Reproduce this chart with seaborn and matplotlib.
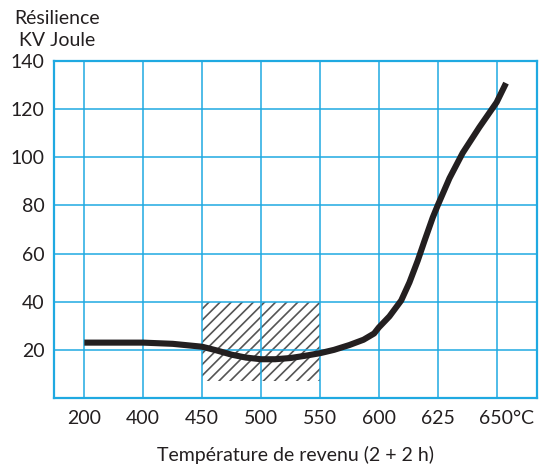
import numpy as np
import pandas as pd
import matplotlib
matplotlib.use("Agg")
import matplotlib.pyplot as plt
import matplotlib.transforms as mtransforms
from matplotlib.patches import Rectangle
import seaborn as sns

# Dados
temp_ticks = [200, 400, 450, 500, 550, 600, 625, 650]
tick_labels = ["200", "400", "450", "500", "550", "600", "625", "650°C"]
y_ticks = [20, 40, 60, 80, 100, 120, 140]

curva_temp = [200, 300, 400, 425, 450, 462, 475, 487, 500, 512, 525, 537, 550,
              562, 575, 587, 596, 600, 604.5, 609.5, 613, 616.5, 619.4, 622.9, 625,
              630, 635.6, 642.7, 650, 654]
curva_kv = [23.0, 23.0, 23.0, 22.5, 21.3, 19.8, 18.0, 16.8, 16.1, 16.1, 16.6, 17.5, 18.6,
            20.0, 22.0, 24.2, 26.8, 29.3, 33.9, 40.5, 48.0, 57.0, 65.3, 75.0, 80.0,
            91.3, 101.8, 112.5, 122.8, 130.8]

# Zone hachurée (température, résilience)
zone_temp = [450, 550]
zone_kv = [7, 40]

azul = "#1FA9E1"
preto = "#231F20"

sns.set_theme(style="white")
plt.rcParams["font.family"] = ["Lato", "DejaVu Sans"]
plt.rcParams["hatch.linewidth"] = 1.2

# Eixo x com espaçamento igual entre os ticks (25 °C par case après 600)
escala_temp = temp_ticks + [675]
escala_pos = list(range(len(temp_ticks) + 1))
pos_ticks = np.arange(len(temp_ticks))
df = pd.DataFrame({"pos": np.interp(curva_temp, escala_temp, escala_pos), "kv": curva_kv})

fig = plt.figure(figsize=(5.39, 4.68), dpi=100)
ax = fig.add_axes([0.1002, 0.1496, 0.8961, 0.7201])

zx = np.interp(zone_temp, escala_temp, escala_pos)
ax.add_patch(Rectangle((zx[0], zone_kv[0]), zx[1] - zx[0], zone_kv[1] - zone_kv[0],
                       facecolor="none", edgecolor="#555555", hatch="///", linewidth=0,
                       zorder=0.3))

sns.lineplot(data=df, x="pos", y="kv", sort=False, color=preto, linewidth=4.4,
             solid_capstyle="butt", solid_joinstyle="round", ax=ax, zorder=3)

ax.set_xlim(-0.515, 7.686)
ax.set_ylim(0, 140)
ax.set_xticks(pos_ticks)
ax.set_xticklabels(tick_labels, fontsize=14, color=preto)
ax.set_yticks(y_ticks)
ax.set_yticklabels([str(v) for v in y_ticks], fontsize=14, color=preto)
ax.tick_params(axis="both", length=0)
ax.tick_params(axis="x", pad=9)
ax.tick_params(axis="y", pad=7)

ax.set_axisbelow(True)
ax.grid(True, color=azul, linewidth=1.1)
for s in ax.spines.values():
    s.set_color(azul)
    s.set_linewidth(1.6)

# "°C" deborda à direita do 650
lab = ax.get_xticklabels()[-1]
lab.set_transform(lab.get_transform() + mtransforms.ScaledTranslation(0.10, 0, fig.dpi_scale_trans))

ax.set_xlabel("Température de revenu (2 + 2 h)", fontsize=14, color=preto, labelpad=13)
ax.set_ylabel("")

fig.text(14 / 539, 1 - 10 / 468, "Résilience\n KV Joule", fontsize=14, color=preto,
         ha="left", va="top", linespacing=1.35)

fig.savefig("out.png", dpi=100)
